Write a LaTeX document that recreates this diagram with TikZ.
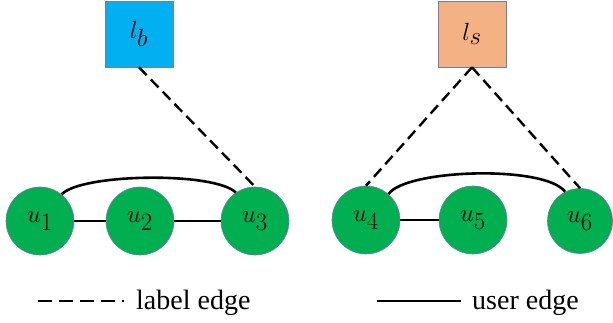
\documentclass[tikz,border=0pt]{standalone}
\usepackage{fontspec}
\setmainfont{Liberation Serif}
\begin{document}
\begin{tikzpicture}[x=1pt,y=-1pt,
  user/.style={circle,draw=borderblue,line width=0.6pt,fill=nodegreen,minimum size=68pt,inner sep=0pt,font=\fontsize{37}{40}\selectfont},
  labelbox/.style={rectangle,draw=borderblue,line width=0.6pt,minimum width=68pt,minimum height=66pt,inner sep=0pt,font=\fontsize{37}{40}\selectfont},
  useredge/.style={line width=2.6pt,black},
  labeledge/.style={line width=2.4pt,black,dash pattern=on 11pt off 6pt},
  legendtext/.style={anchor=base west,inner sep=0pt,font=\fontsize{28}{30}\selectfont}]
\definecolor{nodegreen}{HTML}{00B050}
\definecolor{boxblue}{HTML}{00B0F0}
\definecolor{boxorange}{HTML}{F4B183}
\definecolor{borderblue}{HTML}{6C7FA8}
\useasboundingbox (0,0) rectangle (613,322);

% label nodes
\node[labelbox,fill=boxblue] (lb) at (139,34) {$l_b$};
\node[labelbox,fill=boxorange] (ls) at (472,34) {$l_s$};

% user nodes
\node[user] (u1) at (40,221) {$u_1$};
\node[user] (u2) at (140,221) {$u_2$};
\node[user] (u3) at (255,221) {$u_3$};
\node[user] (u4) at (366,220) {$u_4$};
\node[user] (u5) at (473,220) {$u_5$};
\node[user,minimum size=65pt] (u6) at (580,221) {$u_6$};

% user edges
\draw[useredge] (u1.east) -- (u2.west);
\draw[useredge] (u2.east) -- (u3.west);
\draw[useredge] (u4.east) -- (u5.west);
\draw[useredge] (u1.51) .. controls +(20,-21) and +(-21,-21) .. (u3.124);
\draw[useredge] (u4.49) .. controls +(17,-25) and +(-20,-27) .. (u6.117);

% label edges
\draw[labeledge] (lb.south) -- (u3.north);
\draw[labeledge] (ls.south) -- (u4.north);
\draw[labeledge] (ls.south) -- (u6.north);

% legend
\coordinate (d0) at (38,301);
\coordinate (d1) at (124,301);
\draw[line width=2.6pt,dash pattern=on 14pt off 7pt] (d0) -- (d1);
\node[legendtext] (t1) at (136,309) {label edge};
\coordinate (s0) at (377,301);
\coordinate (s1) at (461,301);
\draw[line width=2.8pt] (s0) -- (s1);
\node[legendtext] (t2) at (472,309) {user edge};
\end{tikzpicture}
\end{document}
